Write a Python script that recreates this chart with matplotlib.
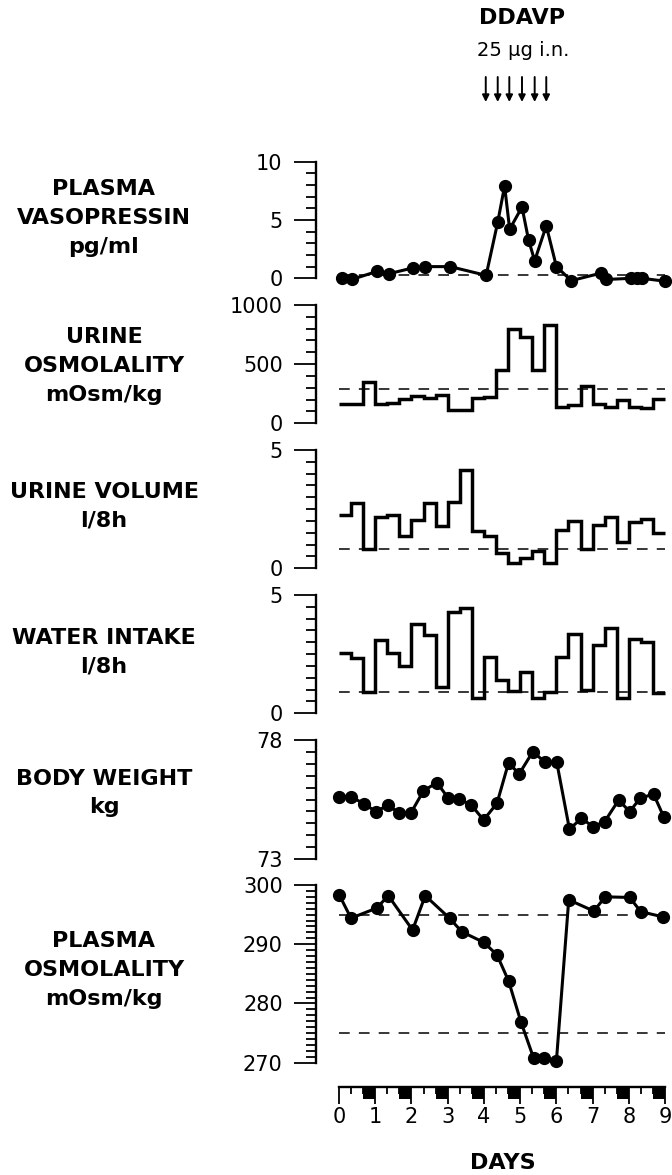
import numpy as np
import matplotlib.pyplot as plt

# values
dose_day = [4.05, 4.38, 4.70, 5.05, 5.40, 5.72]

vp_day = [0.07, 0.35, 1.06, 1.39, 2.05, 2.38, 3.07, 4.06, 4.38, 4.57, 4.71, 5.05,
          5.23, 5.40, 5.72, 6.00, 6.41, 7.24, 7.38, 8.07, 8.22, 8.36, 9.00]
vp = [0.0, -0.1, 0.6, 0.4, 0.9, 1.0, 1.0, 0.25, 4.8, 7.9, 4.2, 6.1,
      3.3, 1.5, 4.5, 1.0, -0.2, 0.45, -0.1, 0.0, 0.0, 0.0, -0.25]
vp_ref = 0.3

# 8-h collection periods, day 0 to 9
period_edges = np.arange(28) / 3.0
uosm = [160, 160, 352, 160, 174, 203, 231, 211, 239, 112, 112, 211, 225, 451,
        794, 727, 451, 831, 140, 155, 315, 163, 140, 197, 140, 127, 203]
uosm_ref = 290
uvol = [2.25, 2.75, 0.8, 2.15, 2.25, 1.37, 2.04, 2.75, 1.79, 2.82, 4.15, 1.59, 1.37, 0.63,
        0.24, 0.42, 0.74, 0.24, 1.62, 2.01, 0.8, 1.83, 2.15, 1.1, 1.97, 2.07, 1.5]
uvol_ref = 0.8
intake = [2.56, 2.35, 0.91, 3.10, 2.56, 2.0, 3.76, 3.31, 1.13, 4.29, 4.46, 0.66, 2.39, 1.41,
          0.94, 1.76, 0.66, 0.89, 2.39, 3.34, 0.98, 2.89, 3.59, 0.66, 3.14, 3.03, 0.85]
intake_ref = 0.91

bw_day = [0.01, 0.33, 0.70, 1.02, 1.36, 1.66, 1.99, 2.33, 2.70, 3.02, 3.32, 3.65, 3.99, 4.36,
          4.68, 4.97, 5.35, 5.69, 6.01, 6.36, 6.69, 7.01, 7.33, 7.72, 8.02, 8.31, 8.68, 8.96]
bw = [75.62, 75.62, 75.31, 74.99, 75.27, 74.92, 74.95, 75.86, 76.21, 75.55, 75.52, 75.27,
      74.64, 75.34, 77.05, 76.57, 77.51, 77.06, 77.06, 74.25, 74.71, 74.36, 74.57, 75.48,
      74.99, 75.55, 75.73, 74.78]

posm_day = [0.01, 0.33, 1.04, 1.36, 2.03, 2.38, 3.05, 3.39, 4.00, 4.36, 4.68, 5.02, 5.37,
            5.67, 6.00, 6.34, 7.03, 7.35, 8.02, 8.33, 8.95]
posm = [298.3, 294.4, 296.1, 298.2, 292.4, 298.2, 294.4, 292.1, 290.3, 288.2, 283.8, 276.9,
        270.8, 270.8, 270.3, 297.5, 295.6, 298.0, 297.9, 295.5, 294.6]
posm_ref = [295, 275]

days = np.arange(10)
night_start = np.arange(9) + 2 / 3

W, H = 672, 1175
fig = plt.figure(figsize=(W / 100, H / 100), dpi=100)

X0 = 316
XLIM = (-0.635, 9.19)


def add_axes(top, bottom):
    return fig.add_axes([X0 / W, 1 - bottom / H, (W - X0) / W, (bottom - top) / H])


def panel(top, bottom, ylim, major, minor, label, label_y):
    ax = add_axes(top, bottom)
    ax.set_xlim(XLIM)
    ax.set_ylim(ylim)
    for s in ['top', 'right', 'bottom']:
        ax.spines[s].set_visible(False)
    ax.spines['left'].set_linewidth(1.7)
    ax.set_xticks([])
    ax.set_yticks(major)
    ax.set_yticks(minor, minor=True)
    ax.tick_params(axis='y', which='major', length=16, width=1.3, pad=8, labelsize=15)
    ax.tick_params(axis='y', which='minor', length=7, width=1.3)
    ax.patch.set_visible(False)
    fig.text(104 / W, 1 - label_y / H, label, ha='center', va='center',
             fontsize=16, fontweight='bold', linespacing=1.55)
    return ax


def ref_line(ax, y):
    ax.plot([0, 9], [y, y], color='k', lw=1.1, ls=(0, (7, 6)))


line_kw = dict(color='k', lw=2.5, clip_on=False)
dot_kw = dict(color='k', lw=2.2, marker='o', ms=8.5, clip_on=False)

# plasma vasopressin
ax1 = panel(161.5, 278.3, (0, 10), [0, 5, 10], np.arange(0, 11, 1),
            'PLASMA\nVASOPRESSIN\npg/ml', 218)
ref_line(ax1, vp_ref)
ax1.plot(vp_day, vp, **dot_kw)

# urine osmolality
ax2 = panel(305, 423.3, (0, 1000), [0, 500, 1000], np.arange(0, 1001, 100),
            'URINE\nOSMOLALITY\nmOsm/kg', 366)
ref_line(ax2, uosm_ref)
ax2.stairs(uosm, period_edges, baseline=None, **line_kw)

# urine volume
ax3 = panel(450, 568.3, (0, 5), [0, 5], np.arange(0, 5.01, 0.5),
            'URINE VOLUME\nl/8h', 506)
ref_line(ax3, uvol_ref)
ax3.stairs(uvol, period_edges, baseline=None, **line_kw)

# water intake
ax4 = panel(595, 713.3, (0, 5), [0, 5], np.arange(0, 5.01, 0.5),
            'WATER INTAKE\nl/8h', 652)
ref_line(ax4, intake_ref)
ax4.stairs(intake, period_edges, baseline=None, **line_kw)

# body weight
ax5 = panel(740, 859, (73, 78), [73, 78], np.arange(73, 78.01, 0.5),
            'BODY WEIGHT\nkg', 793)
ax5.plot(bw_day, bw, **dot_kw)

# plasma osmolality
ax6 = panel(885, 1062.7, (270, 300), [270, 280, 290, 300], np.arange(270, 301, 1),
            'PLASMA\nOSMOLALITY\nmOsm/kg', 970)
for r in posm_ref:
    ref_line(ax6, r)
ax6.plot(posm_day, posm, **dot_kw)

# day ruler with dark (night) periods
axr = add_axes(1087, 1099)
axr.set_xlim(XLIM)
axr.set_ylim(-1, 0)
axr.bar(night_start, -1, width=1 / 3, align='edge', color='k')
for s in ['left', 'right', 'bottom']:
    axr.spines[s].set_visible(False)
axr.spines['top'].set_linewidth(1.7)
axr.spines['top'].set_bounds(0, 9)
axr.set_yticks([])
axr.set_xticks(days)
axr.set_xticks(period_edges, minor=True)
axr.tick_params(axis='x', which='both', top=True, bottom=False, direction='in',
                labeltop=False, labelbottom=True, width=1.3)
axr.tick_params(axis='x', which='major', length=12, pad=6, labelsize=15)
axr.tick_params(axis='x', which='minor', length=5)
axr.patch.set_visible(False)
fig.text(503 / W, 1 - 1163 / H, 'DAYS', ha='center', va='center',
         fontsize=16, fontweight='bold')

# DDAVP doses
axh = add_axes(0, 140)
axh.set_xlim(XLIM)
axh.set_ylim(140, 0)
axh.axis('off')
for d in dose_day:
    axh.annotate('', xy=(d, 102), xytext=(d, 77),
                 arrowprops=dict(arrowstyle='-|>', color='k', lw=1.4,
                                 mutation_scale=10, shrinkA=0, shrinkB=0))
fig.text(522 / W, 1 - 18 / H, 'DDAVP', ha='center', va='center',
         fontsize=16, fontweight='bold')
fig.text(523 / W, 1 - 50 / H, '25 µg i.n.', ha='center', va='center', fontsize=14)

fig.savefig('out.png', dpi=100)
